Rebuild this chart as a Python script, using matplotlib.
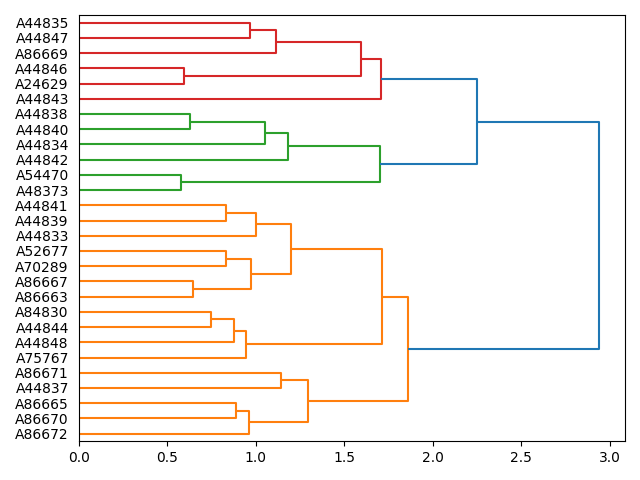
import matplotlib
matplotlib.use('Agg')
import matplotlib.pyplot as plt
from matplotlib.collections import LineCollection

# leaves, bottom to top (as drawn)
leaves = ['A86672', 'A86670', 'A86665', 'A44837', 'A86671', 'A75767', 'A44848',
          'A44844', 'A84830', 'A86663', 'A86667', 'A70289', 'A52677', 'A44833',
          'A44839', 'A44841', 'A48373', 'A54470', 'A44842', 'A44834', 'A44840',
          'A44838', 'A44843', 'A24629', 'A44846', 'A86669', 'A44847', 'A44835']

# merges: (child a, child b, height, colour) - children are leaf names or merge indices
merges = [
    ('A86670', 'A86665', 0.890, 'C1'),   # 0
    ('A86672', 0, 0.965, 'C1'),          # 1
    ('A44837', 'A86671', 1.144, 'C1'),   # 2
    (1, 2, 1.297, 'C1'),                 # 3
    ('A44844', 'A84830', 0.750, 'C1'),   # 4
    ('A44848', 4, 0.877, 'C1'),          # 5
    ('A75767', 5, 0.946, 'C1'),          # 6
    ('A86663', 'A86667', 0.649, 'C1'),   # 7
    ('A70289', 'A52677', 0.833, 'C1'),   # 8
    (7, 8, 0.975, 'C1'),                 # 9
    ('A44839', 'A44841', 0.833, 'C1'),   # 10
    ('A44833', 10, 1.003, 'C1'),         # 11
    (9, 11, 1.200, 'C1'),                # 12
    (6, 12, 1.715, 'C1'),                # 13
    (3, 13, 1.863, 'C1'),                # 14
    ('A48373', 'A54470', 0.577, 'C2'),   # 15
    ('A44840', 'A44838', 0.630, 'C2'),   # 16
    ('A44834', 16, 1.054, 'C2'),         # 17
    ('A44842', 17, 1.184, 'C2'),         # 18
    (15, 18, 1.703, 'C2'),               # 19
    ('A24629', 'A44846', 0.598, 'C3'),   # 20
    ('A44847', 'A44835', 0.969, 'C3'),   # 21
    ('A86669', 21, 1.116, 'C3'),         # 22
    (20, 22, 1.596, 'C3'),               # 23
    ('A44843', 23, 1.709, 'C3'),         # 24
    (19, 24, 2.251, 'C0'),               # 25
    (14, 25, 2.940, 'C0'),               # 26
]

ypos = {name: 5 + 10 * i for i, name in enumerate(leaves)}


def node_pos(c):
    # returns (y, height) of a child
    if isinstance(c, str):
        return ypos[c], 0.0
    return centers[c], merges[c][2]


centers = {}
segs = []
cols = []
for i, (a, b, h, col) in enumerate(merges):
    ya, ha = node_pos(a)
    yb, hb = node_pos(b)
    segs.append([(ha, ya), (h, ya), (h, yb), (hb, yb)])
    cols.append(col)
    centers[i] = (ya + yb) / 2.0

fig, ax = plt.subplots(figsize=(6.4, 4.8), dpi=100)
ax.add_collection(LineCollection(segs, colors=cols, linewidths=1.5))

max_h = max(m[2] for m in merges)
ax.set_xlim(0, max_h * 1.05)
ax.set_ylim(0, len(leaves) * 10)
ax.set_yticks([ypos[n] for n in leaves])
ax.set_yticklabels(leaves)
for line in ax.get_yticklines():
    line.set_visible(False)

plt.tight_layout()
plt.savefig('out.png')
